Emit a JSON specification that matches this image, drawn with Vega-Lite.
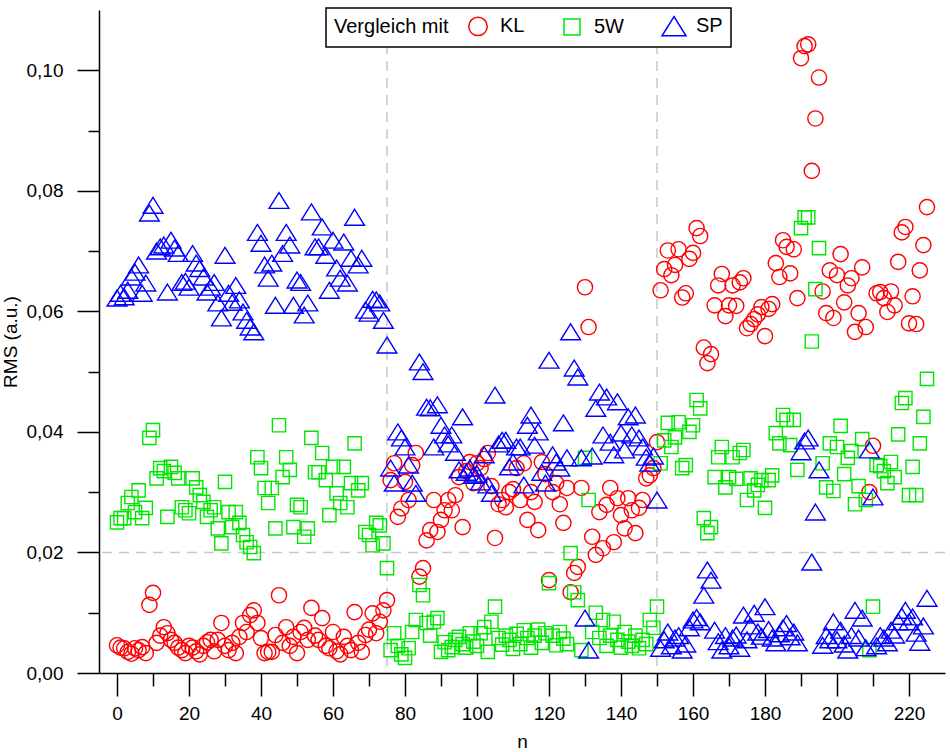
{
"$schema": "https://vega.github.io/schema/vega-lite/v6.json",
"width": 846, "height": 663,
"autosize": {"type": "none"},
"padding": {"left": 99, "top": 10, "right": 5, "bottom": 79},
"background": "white",
"datasets": {
"pts": [
{"n":0,"s":"KL","v":0.0046},{"n":1,"s":"KL","v":0.0042},{"n":2,"s":"KL","v":0.0041},{"n":3,"s":"KL","v":0.0035},{"n":4,"s":"KL","v":0.0032},{"n":5,"s":"KL","v":0.0041},{"n":6,"s":"KL","v":0.0038},{"n":7,"s":"KL","v":0.0043},{"n":8,"s":"KL","v":0.0033},{"n":9,"s":"KL","v":0.0113},
{"n":10,"s":"KL","v":0.0133},{"n":11,"s":"KL","v":0.005},{"n":12,"s":"KL","v":0.0062},{"n":13,"s":"KL","v":0.0076},{"n":14,"s":"KL","v":0.0066},{"n":15,"s":"KL","v":0.0055},{"n":16,"s":"KL","v":0.005},{"n":17,"s":"KL","v":0.0042},{"n":18,"s":"KL","v":0.0038},{"n":19,"s":"KL","v":0.0033},
{"n":20,"s":"KL","v":0.0045},{"n":21,"s":"KL","v":0.0042},{"n":22,"s":"KL","v":0.0036},{"n":23,"s":"KL","v":0.0031},{"n":24,"s":"KL","v":0.0045},{"n":25,"s":"KL","v":0.0051},{"n":26,"s":"KL","v":0.0055},{"n":27,"s":"KL","v":0.0036},{"n":28,"s":"KL","v":0.0055},{"n":29,"s":"KL","v":0.0083},
{"n":30,"s":"KL","v":0.0045},{"n":31,"s":"KL","v":0.0038},{"n":32,"s":"KL","v":0.005},{"n":33,"s":"KL","v":0.0033},{"n":34,"s":"KL","v":0.006},{"n":35,"s":"KL","v":0.0083},{"n":36,"s":"KL","v":0.0068},{"n":37,"s":"KL","v":0.0096},{"n":38,"s":"KL","v":0.0104},{"n":39,"s":"KL","v":0.0083},
{"n":40,"s":"KL","v":0.0058},{"n":41,"s":"KL","v":0.0033},{"n":42,"s":"KL","v":0.0035},{"n":43,"s":"KL","v":0.0035},{"n":44,"s":"KL","v":0.0063},{"n":45,"s":"KL","v":0.0129},{"n":46,"s":"KL","v":0.005},{"n":47,"s":"KL","v":0.0076},{"n":48,"s":"KL","v":0.0045},{"n":49,"s":"KL","v":0.006},
{"n":50,"s":"KL","v":0.0033},{"n":51,"s":"KL","v":0.0068},{"n":52,"s":"KL","v":0.0075},{"n":53,"s":"KL","v":0.0055},{"n":54,"s":"KL","v":0.0108},{"n":55,"s":"KL","v":0.0062},{"n":56,"s":"KL","v":0.0055},{"n":57,"s":"KL","v":0.0091},{"n":58,"s":"KL","v":0.0045},{"n":59,"s":"KL","v":0.0041},
{"n":60,"s":"KL","v":0.0068},{"n":61,"s":"KL","v":0.0036},{"n":62,"s":"KL","v":0.0031},{"n":63,"s":"KL","v":0.006},{"n":64,"s":"KL","v":0.0045},{"n":65,"s":"KL","v":0.0038},{"n":66,"s":"KL","v":0.0101},{"n":67,"s":"KL","v":0.005},{"n":68,"s":"KL","v":0.0035},{"n":69,"s":"KL","v":0.0063},
{"n":70,"s":"KL","v":0.0072},{"n":71,"s":"KL","v":0.0099},{"n":72,"s":"KL","v":0.0066},{"n":73,"s":"KL","v":0.0085},{"n":74,"s":"KL","v":0.0104},{"n":75,"s":"KL","v":0.0121},
{"n":76,"s":"KL","v":0.032},{"n":77,"s":"KL","v":0.0348},{"n":78,"s":"KL","v":0.0259},{"n":79,"s":"KL","v":0.0273},{"n":80,"s":"KL","v":0.0317},{"n":81,"s":"KL","v":0.0287},{"n":82,"s":"KL","v":0.0345},{"n":83,"s":"KL","v":0.0365},{"n":84,"s":"KL","v":0.016},{"n":85,"s":"KL","v":0.0174},
{"n":86,"s":"KL","v":0.022},{"n":87,"s":"KL","v":0.0237},{"n":88,"s":"KL","v":0.0287},{"n":89,"s":"KL","v":0.0234},{"n":90,"s":"KL","v":0.0254},{"n":91,"s":"KL","v":0.027},{"n":92,"s":"KL","v":0.0287},{"n":93,"s":"KL","v":0.027},{"n":94,"s":"KL","v":0.0295},{"n":95,"s":"KL","v":0.0325},
{"n":96,"s":"KL","v":0.0242},{"n":97,"s":"KL","v":0.0335},{"n":98,"s":"KL","v":0.035},{"n":99,"s":"KL","v":0.0315},{"n":100,"s":"KL","v":0.0348},{"n":101,"s":"KL","v":0.034},{"n":102,"s":"KL","v":0.0355},{"n":103,"s":"KL","v":0.0365},{"n":104,"s":"KL","v":0.031},{"n":105,"s":"KL","v":0.0224},
{"n":106,"s":"KL","v":0.028},{"n":107,"s":"KL","v":0.0287},{"n":108,"s":"KL","v":0.0275},{"n":109,"s":"KL","v":0.03},{"n":110,"s":"KL","v":0.0305},{"n":111,"s":"KL","v":0.034},{"n":112,"s":"KL","v":0.0287},{"n":113,"s":"KL","v":0.0348},{"n":114,"s":"KL","v":0.0254},{"n":115,"s":"KL","v":0.03},
{"n":116,"s":"KL","v":0.0284},{"n":117,"s":"KL","v":0.0237},{"n":118,"s":"KL","v":0.035},{"n":119,"s":"KL","v":0.033},{"n":120,"s":"KL","v":0.0154},{"n":121,"s":"KL","v":0.03},{"n":122,"s":"KL","v":0.0315},{"n":123,"s":"KL","v":0.028},{"n":124,"s":"KL","v":0.0249},{"n":125,"s":"KL","v":0.0307},
{"n":126,"s":"KL","v":0.0134},{"n":127,"s":"KL","v":0.0166},{"n":128,"s":"KL","v":0.0176},{"n":129,"s":"KL","v":0.0307},{"n":130,"s":"KL","v":0.064},{"n":131,"s":"KL","v":0.0574},{"n":132,"s":"KL","v":0.0226},{"n":133,"s":"KL","v":0.0196},{"n":134,"s":"KL","v":0.0267},{"n":135,"s":"KL","v":0.0207},
{"n":136,"s":"KL","v":0.0279},{"n":137,"s":"KL","v":0.0307},{"n":138,"s":"KL","v":0.0217},{"n":139,"s":"KL","v":0.029},{"n":140,"s":"KL","v":0.0262},{"n":141,"s":"KL","v":0.024},{"n":142,"s":"KL","v":0.029},{"n":143,"s":"KL","v":0.027},{"n":144,"s":"KL","v":0.0232},{"n":145,"s":"KL","v":0.0274},
{"n":146,"s":"KL","v":0.0287},{"n":147,"s":"KL","v":0.0323},{"n":148,"s":"KL","v":0.0328},{"n":149,"s":"KL","v":0.034},{"n":150,"s":"KL","v":0.0383},
{"n":151,"s":"KL","v":0.0635},{"n":152,"s":"KL","v":0.067},{"n":153,"s":"KL","v":0.0701},{"n":154,"s":"KL","v":0.066},{"n":155,"s":"KL","v":0.0677},{"n":156,"s":"KL","v":0.0703},{"n":157,"s":"KL","v":0.0623},{"n":158,"s":"KL","v":0.063},{"n":159,"s":"KL","v":0.0687},{"n":160,"s":"KL","v":0.0697},
{"n":161,"s":"KL","v":0.0738},{"n":162,"s":"KL","v":0.0725},{"n":163,"s":"KL","v":0.054},{"n":164,"s":"KL","v":0.0514},{"n":165,"s":"KL","v":0.0529},{"n":166,"s":"KL","v":0.061},{"n":167,"s":"KL","v":0.0643},{"n":168,"s":"KL","v":0.0662},{"n":169,"s":"KL","v":0.0592},{"n":170,"s":"KL","v":0.061},
{"n":171,"s":"KL","v":0.0643},{"n":172,"s":"KL","v":0.0609},{"n":173,"s":"KL","v":0.0648},{"n":174,"s":"KL","v":0.0655},{"n":175,"s":"KL","v":0.0572},{"n":176,"s":"KL","v":0.0579},{"n":177,"s":"KL","v":0.0587},{"n":178,"s":"KL","v":0.0595},{"n":179,"s":"KL","v":0.0607},{"n":180,"s":"KL","v":0.0559},
{"n":181,"s":"KL","v":0.0604},{"n":182,"s":"KL","v":0.0612},{"n":183,"s":"KL","v":0.068},{"n":184,"s":"KL","v":0.0657},{"n":185,"s":"KL","v":0.0718},{"n":186,"s":"KL","v":0.0707},{"n":187,"s":"KL","v":0.0663},{"n":188,"s":"KL","v":0.0703},{"n":189,"s":"KL","v":0.0622},{"n":190,"s":"KL","v":0.102},
{"n":191,"s":"KL","v":0.104},{"n":192,"s":"KL","v":0.1043},{"n":193,"s":"KL","v":0.0833},{"n":194,"s":"KL","v":0.092},{"n":195,"s":"KL","v":0.0988},{"n":196,"s":"KL","v":0.0633},{"n":197,"s":"KL","v":0.0597},{"n":198,"s":"KL","v":0.0668},{"n":199,"s":"KL","v":0.0589},{"n":200,"s":"KL","v":0.066},
{"n":201,"s":"KL","v":0.0695},{"n":202,"s":"KL","v":0.0615},{"n":203,"s":"KL","v":0.0643},{"n":204,"s":"KL","v":0.0655},{"n":205,"s":"KL","v":0.0566},{"n":206,"s":"KL","v":0.0597},{"n":207,"s":"KL","v":0.0673},{"n":208,"s":"KL","v":0.0574},{"n":209,"s":"KL","v":0.03},{"n":210,"s":"KL","v":0.0377},
{"n":211,"s":"KL","v":0.063},{"n":212,"s":"KL","v":0.0632},{"n":213,"s":"KL","v":0.0622},{"n":214,"s":"KL","v":0.0599},{"n":215,"s":"KL","v":0.0633},{"n":216,"s":"KL","v":0.061},{"n":217,"s":"KL","v":0.0682},{"n":218,"s":"KL","v":0.0731},{"n":219,"s":"KL","v":0.074},{"n":220,"s":"KL","v":0.058},
{"n":221,"s":"KL","v":0.0625},{"n":222,"s":"KL","v":0.0579},{"n":223,"s":"KL","v":0.0668},{"n":224,"s":"KL","v":0.071},{"n":225,"s":"KL","v":0.0773},
{"n":0,"s":"5W","v":0.025},{"n":1,"s":"5W","v":0.0257},{"n":2,"s":"5W","v":0.0257},{"n":3,"s":"5W","v":0.0282},{"n":4,"s":"5W","v":0.0292},{"n":5,"s":"5W","v":0.0267},{"n":6,"s":"5W","v":0.0303},{"n":7,"s":"5W","v":0.0257},{"n":8,"s":"5W","v":0.0274},{"n":9,"s":"5W","v":0.039},
{"n":10,"s":"5W","v":0.0403},{"n":11,"s":"5W","v":0.0323},{"n":12,"s":"5W","v":0.034},{"n":13,"s":"5W","v":0.0335},{"n":14,"s":"5W","v":0.0259},{"n":15,"s":"5W","v":0.0342},{"n":16,"s":"5W","v":0.0332},{"n":17,"s":"5W","v":0.0323},{"n":18,"s":"5W","v":0.0275},{"n":19,"s":"5W","v":0.027},
{"n":20,"s":"5W","v":0.0265},{"n":21,"s":"5W","v":0.0323},{"n":22,"s":"5W","v":0.0308},{"n":23,"s":"5W","v":0.0295},{"n":24,"s":"5W","v":0.0284},{"n":25,"s":"5W","v":0.0259},{"n":26,"s":"5W","v":0.027},{"n":27,"s":"5W","v":0.0275},{"n":28,"s":"5W","v":0.024},{"n":29,"s":"5W","v":0.0215},
{"n":30,"s":"5W","v":0.0317},{"n":31,"s":"5W","v":0.0267},{"n":32,"s":"5W","v":0.0242},{"n":33,"s":"5W","v":0.0267},{"n":34,"s":"5W","v":0.0249},{"n":35,"s":"5W","v":0.0229},{"n":36,"s":"5W","v":0.0217},{"n":37,"s":"5W","v":0.0209},{"n":38,"s":"5W","v":0.0199},{"n":39,"s":"5W","v":0.0358},
{"n":40,"s":"5W","v":0.034},{"n":41,"s":"5W","v":0.0307},{"n":42,"s":"5W","v":0.0282},{"n":43,"s":"5W","v":0.0307},{"n":44,"s":"5W","v":0.024},{"n":45,"s":"5W","v":0.0411},{"n":46,"s":"5W","v":0.0325},{"n":47,"s":"5W","v":0.0358},{"n":48,"s":"5W","v":0.0337},{"n":49,"s":"5W","v":0.0242},
{"n":50,"s":"5W","v":0.0279},{"n":51,"s":"5W","v":0.0275},{"n":52,"s":"5W","v":0.0226},{"n":53,"s":"5W","v":0.024},{"n":54,"s":"5W","v":0.039},{"n":55,"s":"5W","v":0.0333},{"n":56,"s":"5W","v":0.0333},{"n":57,"s":"5W","v":0.0365},{"n":58,"s":"5W","v":0.032},{"n":59,"s":"5W","v":0.0262},
{"n":60,"s":"5W","v":0.0342},{"n":61,"s":"5W","v":0.0298},{"n":62,"s":"5W","v":0.0282},{"n":63,"s":"5W","v":0.0342},{"n":64,"s":"5W","v":0.0275},{"n":65,"s":"5W","v":0.0315},{"n":66,"s":"5W","v":0.0381},{"n":67,"s":"5W","v":0.0303},{"n":68,"s":"5W","v":0.0315},{"n":69,"s":"5W","v":0.0234},
{"n":70,"s":"5W","v":0.0229},{"n":71,"s":"5W","v":0.0212},{"n":72,"s":"5W","v":0.0249},{"n":73,"s":"5W","v":0.0245},{"n":74,"s":"5W","v":0.0215},{"n":75,"s":"5W","v":0.0174},
{"n":76,"s":"5W","v":0.0038},{"n":77,"s":"5W","v":0.0066},{"n":78,"s":"5W","v":0.0045},{"n":79,"s":"5W","v":0.0031},{"n":80,"s":"5W","v":0.0025},{"n":81,"s":"5W","v":0.0041},{"n":82,"s":"5W","v":0.0068},{"n":83,"s":"5W","v":0.0088},{"n":84,"s":"5W","v":0.0146},{"n":85,"s":"5W","v":0.0129},
{"n":86,"s":"5W","v":0.0083},{"n":87,"s":"5W","v":0.0062},{"n":88,"s":"5W","v":0.0085},{"n":89,"s":"5W","v":0.0091},{"n":90,"s":"5W","v":0.0035},{"n":91,"s":"5W","v":0.0051},{"n":92,"s":"5W","v":0.0038},{"n":93,"s":"5W","v":0.0043},{"n":94,"s":"5W","v":0.0055},{"n":95,"s":"5W","v":0.006},
{"n":96,"s":"5W","v":0.0048},{"n":97,"s":"5W","v":0.0042},{"n":98,"s":"5W","v":0.0066},{"n":99,"s":"5W","v":0.0052},{"n":100,"s":"5W","v":0.0045},{"n":101,"s":"5W","v":0.0066},{"n":102,"s":"5W","v":0.0076},{"n":103,"s":"5W","v":0.0035},{"n":104,"s":"5W","v":0.0085},{"n":105,"s":"5W","v":0.011},
{"n":106,"s":"5W","v":0.0058},{"n":107,"s":"5W","v":0.0047},{"n":108,"s":"5W","v":0.0062},{"n":109,"s":"5W","v":0.0055},{"n":110,"s":"5W","v":0.004},{"n":111,"s":"5W","v":0.0065},{"n":112,"s":"5W","v":0.0048},{"n":113,"s":"5W","v":0.0071},{"n":114,"s":"5W","v":0.0058},{"n":115,"s":"5W","v":0.0042},
{"n":116,"s":"5W","v":0.0062},{"n":117,"s":"5W","v":0.0072},{"n":118,"s":"5W","v":0.005},{"n":119,"s":"5W","v":0.0066},{"n":120,"s":"5W","v":0.0149},{"n":121,"s":"5W","v":0.0062},{"n":122,"s":"5W","v":0.0046},{"n":123,"s":"5W","v":0.0068},{"n":124,"s":"5W","v":0.0057},{"n":125,"s":"5W","v":0.0048},
{"n":126,"s":"5W","v":0.0199},{"n":127,"s":"5W","v":0.0134},{"n":128,"s":"5W","v":0.0121},{"n":129,"s":"5W","v":0.0038},{"n":130,"s":"5W","v":0.0357},{"n":131,"s":"5W","v":0.0287},{"n":132,"s":"5W","v":0.0068},{"n":133,"s":"5W","v":0.01},{"n":134,"s":"5W","v":0.0058},{"n":135,"s":"5W","v":0.0088},
{"n":136,"s":"5W","v":0.0045},{"n":137,"s":"5W","v":0.0062},{"n":138,"s":"5W","v":0.0085},{"n":139,"s":"5W","v":0.0055},{"n":140,"s":"5W","v":0.0042},{"n":141,"s":"5W","v":0.0068},{"n":142,"s":"5W","v":0.0052},{"n":143,"s":"5W","v":0.0045},{"n":144,"s":"5W","v":0.0062},{"n":145,"s":"5W","v":0.0041},
{"n":146,"s":"5W","v":0.0055},{"n":147,"s":"5W","v":0.0048},{"n":148,"s":"5W","v":0.0088},{"n":149,"s":"5W","v":0.0075},{"n":150,"s":"5W","v":0.011},
{"n":151,"s":"5W","v":0.0348},{"n":152,"s":"5W","v":0.0386},{"n":153,"s":"5W","v":0.0415},{"n":154,"s":"5W","v":0.0375},{"n":155,"s":"5W","v":0.0391},{"n":156,"s":"5W","v":0.0416},{"n":157,"s":"5W","v":0.034},{"n":158,"s":"5W","v":0.0345},{"n":159,"s":"5W","v":0.04},{"n":160,"s":"5W","v":0.0411},
{"n":161,"s":"5W","v":0.0453},{"n":162,"s":"5W","v":0.0439},{"n":163,"s":"5W","v":0.0257},{"n":164,"s":"5W","v":0.0232},{"n":165,"s":"5W","v":0.0242},{"n":166,"s":"5W","v":0.0325},{"n":167,"s":"5W","v":0.0358},{"n":168,"s":"5W","v":0.0375},{"n":169,"s":"5W","v":0.0308},{"n":170,"s":"5W","v":0.0325},
{"n":171,"s":"5W","v":0.0358},{"n":172,"s":"5W","v":0.0322},{"n":173,"s":"5W","v":0.0365},{"n":174,"s":"5W","v":0.037},{"n":175,"s":"5W","v":0.0287},{"n":176,"s":"5W","v":0.0323},{"n":177,"s":"5W","v":0.0303},{"n":178,"s":"5W","v":0.0312},{"n":179,"s":"5W","v":0.032},{"n":180,"s":"5W","v":0.0274},
{"n":181,"s":"5W","v":0.032},{"n":182,"s":"5W","v":0.0328},{"n":183,"s":"5W","v":0.0398},{"n":184,"s":"5W","v":0.0381},{"n":185,"s":"5W","v":0.0428},{"n":186,"s":"5W","v":0.042},{"n":187,"s":"5W","v":0.0378},{"n":188,"s":"5W","v":0.042},{"n":189,"s":"5W","v":0.0337},{"n":190,"s":"5W","v":0.0738},
{"n":191,"s":"5W","v":0.0756},{"n":192,"s":"5W","v":0.0756},{"n":193,"s":"5W","v":0.055},{"n":194,"s":"5W","v":0.0637},{"n":195,"s":"5W","v":0.0705},{"n":196,"s":"5W","v":0.0348},{"n":197,"s":"5W","v":0.0308},{"n":198,"s":"5W","v":0.0381},{"n":199,"s":"5W","v":0.0302},{"n":200,"s":"5W","v":0.0375},
{"n":201,"s":"5W","v":0.041},{"n":202,"s":"5W","v":0.033},{"n":203,"s":"5W","v":0.0357},{"n":204,"s":"5W","v":0.0368},{"n":205,"s":"5W","v":0.028},{"n":206,"s":"5W","v":0.031},{"n":207,"s":"5W","v":0.0388},{"n":208,"s":"5W","v":0.0287},{"n":209,"s":"5W","v":0.0038},{"n":210,"s":"5W","v":0.011},
{"n":211,"s":"5W","v":0.0345},{"n":212,"s":"5W","v":0.0343},{"n":213,"s":"5W","v":0.0335},{"n":214,"s":"5W","v":0.0315},{"n":215,"s":"5W","v":0.035},{"n":216,"s":"5W","v":0.0325},{"n":217,"s":"5W","v":0.0396},{"n":218,"s":"5W","v":0.0448},{"n":219,"s":"5W","v":0.0456},{"n":220,"s":"5W","v":0.0295},
{"n":221,"s":"5W","v":0.0342},{"n":222,"s":"5W","v":0.0295},{"n":223,"s":"5W","v":0.0381},{"n":224,"s":"5W","v":0.0425},{"n":225,"s":"5W","v":0.0488},
{"n":0,"s":"SP","v":0.0622},{"n":1,"s":"SP","v":0.063},{"n":2,"s":"SP","v":0.0624},{"n":3,"s":"SP","v":0.0635},{"n":4,"s":"SP","v":0.0657},{"n":5,"s":"SP","v":0.0665},{"n":6,"s":"SP","v":0.0677},{"n":7,"s":"SP","v":0.063},{"n":8,"s":"SP","v":0.0647},{"n":9,"s":"SP","v":0.0763},
{"n":10,"s":"SP","v":0.0776},{"n":11,"s":"SP","v":0.07},{"n":12,"s":"SP","v":0.0707},{"n":13,"s":"SP","v":0.071},{"n":14,"s":"SP","v":0.0632},{"n":15,"s":"SP","v":0.0718},{"n":16,"s":"SP","v":0.0705},{"n":17,"s":"SP","v":0.0696},{"n":18,"s":"SP","v":0.0648},{"n":19,"s":"SP","v":0.065},
{"n":20,"s":"SP","v":0.064},{"n":21,"s":"SP","v":0.0696},{"n":22,"s":"SP","v":0.068},{"n":23,"s":"SP","v":0.0671},{"n":24,"s":"SP","v":0.0657},{"n":25,"s":"SP","v":0.0632},{"n":26,"s":"SP","v":0.064},{"n":27,"s":"SP","v":0.0648},{"n":28,"s":"SP","v":0.0614},{"n":29,"s":"SP","v":0.0589},
{"n":30,"s":"SP","v":0.0693},{"n":31,"s":"SP","v":0.063},{"n":32,"s":"SP","v":0.0615},{"n":33,"s":"SP","v":0.0643},{"n":34,"s":"SP","v":0.0619},{"n":35,"s":"SP","v":0.0599},{"n":36,"s":"SP","v":0.0585},{"n":37,"s":"SP","v":0.0574},{"n":38,"s":"SP","v":0.0566},{"n":39,"s":"SP","v":0.0731},
{"n":40,"s":"SP","v":0.0713},{"n":41,"s":"SP","v":0.0677},{"n":42,"s":"SP","v":0.0655},{"n":43,"s":"SP","v":0.068},{"n":44,"s":"SP","v":0.061},{"n":45,"s":"SP","v":0.0784},{"n":46,"s":"SP","v":0.0696},{"n":47,"s":"SP","v":0.0731},{"n":48,"s":"SP","v":0.071},{"n":49,"s":"SP","v":0.061},
{"n":50,"s":"SP","v":0.0652},{"n":51,"s":"SP","v":0.0648},{"n":52,"s":"SP","v":0.0594},{"n":53,"s":"SP","v":0.0614},{"n":54,"s":"SP","v":0.0765},{"n":55,"s":"SP","v":0.0707},{"n":56,"s":"SP","v":0.0707},{"n":57,"s":"SP","v":0.074},{"n":58,"s":"SP","v":0.0693},{"n":59,"s":"SP","v":0.0635},
{"n":60,"s":"SP","v":0.0718},{"n":61,"s":"SP","v":0.0672},{"n":62,"s":"SP","v":0.0655},{"n":63,"s":"SP","v":0.0715},{"n":64,"s":"SP","v":0.0647},{"n":65,"s":"SP","v":0.0688},{"n":66,"s":"SP","v":0.0756},{"n":67,"s":"SP","v":0.0677},{"n":68,"s":"SP","v":0.0688},{"n":69,"s":"SP","v":0.0602},
{"n":70,"s":"SP","v":0.0597},{"n":71,"s":"SP","v":0.062},{"n":72,"s":"SP","v":0.0619},{"n":73,"s":"SP","v":0.0614},{"n":74,"s":"SP","v":0.0585},{"n":75,"s":"SP","v":0.0544},
{"n":76,"s":"SP","v":0.034},{"n":77,"s":"SP","v":0.0315},{"n":78,"s":"SP","v":0.04},{"n":79,"s":"SP","v":0.039},{"n":80,"s":"SP","v":0.0375},{"n":81,"s":"SP","v":0.0345},{"n":82,"s":"SP","v":0.0315},{"n":83,"s":"SP","v":0.0298},{"n":84,"s":"SP","v":0.0516},{"n":85,"s":"SP","v":0.05},
{"n":86,"s":"SP","v":0.0441},{"n":87,"s":"SP","v":0.044},{"n":88,"s":"SP","v":0.0375},{"n":89,"s":"SP","v":0.0445},{"n":90,"s":"SP","v":0.0411},{"n":91,"s":"SP","v":0.0395},{"n":92,"s":"SP","v":0.038},{"n":93,"s":"SP","v":0.0395},{"n":94,"s":"SP","v":0.0366},{"n":95,"s":"SP","v":0.0337},
{"n":96,"s":"SP","v":0.0425},{"n":97,"s":"SP","v":0.0333},{"n":98,"s":"SP","v":0.034},{"n":99,"s":"SP","v":0.0328},{"n":100,"s":"SP","v":0.033},{"n":101,"s":"SP","v":0.0317},{"n":102,"s":"SP","v":0.0362},{"n":103,"s":"SP","v":0.0312},{"n":104,"s":"SP","v":0.0298},{"n":105,"s":"SP","v":0.0461},
{"n":106,"s":"SP","v":0.038},{"n":107,"s":"SP","v":0.0386},{"n":108,"s":"SP","v":0.0386},{"n":109,"s":"SP","v":0.0342},{"n":110,"s":"SP","v":0.035},{"n":111,"s":"SP","v":0.0375},{"n":112,"s":"SP","v":0.0375},{"n":113,"s":"SP","v":0.0312},{"n":114,"s":"SP","v":0.0411},{"n":115,"s":"SP","v":0.0428},
{"n":116,"s":"SP","v":0.0378},{"n":117,"s":"SP","v":0.04},{"n":118,"s":"SP","v":0.0333},{"n":119,"s":"SP","v":0.0315},{"n":120,"s":"SP","v":0.0519},{"n":121,"s":"SP","v":0.0362},{"n":122,"s":"SP","v":0.035},{"n":123,"s":"SP","v":0.034},{"n":124,"s":"SP","v":0.0415},{"n":125,"s":"SP","v":0.0357},
{"n":126,"s":"SP","v":0.0566},{"n":127,"s":"SP","v":0.0506},{"n":128,"s":"SP","v":0.0491},{"n":129,"s":"SP","v":0.0357},{"n":130,"s":"SP","v":0.0091},{"n":131,"s":"SP","v":0.0038},{"n":132,"s":"SP","v":0.036},{"n":133,"s":"SP","v":0.0439},{"n":134,"s":"SP","v":0.0466},{"n":135,"s":"SP","v":0.0395},
{"n":136,"s":"SP","v":0.0458},{"n":137,"s":"SP","v":0.0383},{"n":138,"s":"SP","v":0.0362},{"n":139,"s":"SP","v":0.045},{"n":140,"s":"SP","v":0.0398},{"n":141,"s":"SP","v":0.037},{"n":142,"s":"SP","v":0.0425},{"n":143,"s":"SP","v":0.0395},{"n":144,"s":"SP","v":0.0428},{"n":145,"s":"SP","v":0.039},
{"n":146,"s":"SP","v":0.0375},{"n":147,"s":"SP","v":0.0358},{"n":148,"s":"SP","v":0.0348},{"n":149,"s":"SP","v":0.036},{"n":150,"s":"SP","v":0.0287},
{"n":151,"s":"SP","v":0.0041},{"n":152,"s":"SP","v":0.0055},{"n":153,"s":"SP","v":0.0068},{"n":154,"s":"SP","v":0.0045},{"n":155,"s":"SP","v":0.0058},{"n":156,"s":"SP","v":0.0062},{"n":157,"s":"SP","v":0.0038},{"n":158,"s":"SP","v":0.0048},{"n":159,"s":"SP","v":0.0075},{"n":160,"s":"SP","v":0.0088},
{"n":161,"s":"SP","v":0.0092},{"n":162,"s":"SP","v":0.0085},{"n":163,"s":"SP","v":0.0129},{"n":164,"s":"SP","v":0.0171},{"n":165,"s":"SP","v":0.0154},{"n":166,"s":"SP","v":0.0071},{"n":167,"s":"SP","v":0.0052},{"n":168,"s":"SP","v":0.0038},{"n":169,"s":"SP","v":0.0062},{"n":170,"s":"SP","v":0.0045},
{"n":171,"s":"SP","v":0.0058},{"n":172,"s":"SP","v":0.0063},{"n":173,"s":"SP","v":0.0041},{"n":174,"s":"SP","v":0.0096},{"n":175,"s":"SP","v":0.0055},{"n":176,"s":"SP","v":0.0078},{"n":177,"s":"SP","v":0.0099},{"n":178,"s":"SP","v":0.0068},{"n":179,"s":"SP","v":0.0061},{"n":180,"s":"SP","v":0.011},
{"n":181,"s":"SP","v":0.0072},{"n":182,"s":"SP","v":0.0058},{"n":183,"s":"SP","v":0.005},{"n":184,"s":"SP","v":0.0065},{"n":185,"s":"SP","v":0.0075},{"n":186,"s":"SP","v":0.0082},{"n":187,"s":"SP","v":0.006},{"n":188,"s":"SP","v":0.0068},{"n":189,"s":"SP","v":0.005},{"n":190,"s":"SP","v":0.0367},
{"n":191,"s":"SP","v":0.0385},{"n":192,"s":"SP","v":0.039},{"n":193,"s":"SP","v":0.0184},{"n":194,"s":"SP","v":0.0267},{"n":195,"s":"SP","v":0.0337},{"n":196,"s":"SP","v":0.0046},{"n":197,"s":"SP","v":0.0062},{"n":198,"s":"SP","v":0.0055},{"n":199,"s":"SP","v":0.0085},{"n":200,"s":"SP","v":0.0055},
{"n":201,"s":"SP","v":0.0071},{"n":202,"s":"SP","v":0.0048},{"n":203,"s":"SP","v":0.0038},{"n":204,"s":"SP","v":0.0062},{"n":205,"s":"SP","v":0.0104},{"n":206,"s":"SP","v":0.0058},{"n":207,"s":"SP","v":0.0091},{"n":208,"s":"SP","v":0.0042},{"n":209,"s":"SP","v":0.037},{"n":210,"s":"SP","v":0.0292},
{"n":211,"s":"SP","v":0.0045},{"n":212,"s":"SP","v":0.0062},{"n":213,"s":"SP","v":0.0058},{"n":214,"s":"SP","v":0.005},{"n":215,"s":"SP","v":0.0071},{"n":216,"s":"SP","v":0.0063},{"n":217,"s":"SP","v":0.0085},{"n":218,"s":"SP","v":0.0094},{"n":219,"s":"SP","v":0.0104},{"n":220,"s":"SP","v":0.0085},
{"n":221,"s":"SP","v":0.0093},{"n":222,"s":"SP","v":0.0066},{"n":223,"s":"SP","v":0.0051},{"n":224,"s":"SP","v":0.0078},{"n":225,"s":"SP","v":0.0124}
]
},
"config": {
  "view": {"stroke": null},
  "font": "Liberation Sans",
  "axis": {"domainColor": "black", "domainWidth": 1.5, "tickColor": "black", "tickWidth": 1.5, "labelColor": "black", "titleColor": "black", "labelFontSize": 19, "titleFontSize": 19, "titleFontWeight": "normal", "grid": false, "labelFont": "Liberation Sans", "titleFont": "Liberation Sans"},
  "legend": {"strokeColor": "black", "strokeWidth": 1.5, "fillColor": "white", "padding": 8, "cornerRadius": 0}
},
"resolve": {"axis": {"x": "independent", "y": "independent"}},
"layer": [
  {
    "data": {"values": [{"n": 75}, {"n": 150}]},
    "mark": {"type": "rule", "color": "#c8c8c8", "strokeDash": [10, 7], "strokeWidth": 1.5},
    "encoding": {
      "x": {"field": "n", "type": "quantitative", "scale": {"domain": [-5, 230], "nice": false, "zero": false},
            "axis": {"orient": "bottom", "values": [10, 30, 50, 70, 90, 110, 130, 150, 170, 190, 210], "tickSize": 13, "labels": false, "domain": false, "title": null}}
    }
  },
  {
    "data": {"values": [{"v": 0.02}]},
    "mark": {"type": "rule", "color": "#c8c8c8", "strokeDash": [10, 7], "strokeWidth": 1.5},
    "encoding": {
      "y": {"field": "v", "type": "quantitative", "scale": {"domain": [0, 0.11], "nice": false, "zero": false},
            "axis": {"orient": "left", "values": [0.01, 0.03, 0.05, 0.07, 0.09], "tickSize": 11, "labels": false, "domain": false, "title": null}}
    }
  },
  {
    "data": {"name": "pts"},
    "mark": {"type": "point", "filled": false, "strokeWidth": 1.4, "opacity": 1, "size": 232},
    "encoding": {
      "x": {"field": "n", "type": "quantitative", "scale": {"domain": [-5, 230], "nice": false, "zero": false},
            "axis": {"orient": "bottom", "values": [0, 20, 40, 60, 80, 100, 120, 140, 160, 180, 200, 220], "tickSize": 23, "labelPadding": 8, "title": "n", "titlePadding": 9}},
      "y": {"field": "v", "type": "quantitative", "scale": {"domain": [0, 0.11], "nice": false, "zero": false},
            "axis": {"orient": "left", "values": [0, 0.02, 0.04, 0.06, 0.08, 0.1], "tickSize": 22, "labelPadding": 14, "labelExpr": "replace(format(datum.value, '.2f'), '.', ',')", "title": "RMS (a.u.)", "titlePadding": 6}},
      "color": {"field": "s", "type": "nominal", "scale": {"domain": ["KL", "5W", "SP"], "range": ["#ff0000", "#00e600", "#0000ff"]},
                "legend": {"title": "Vergleich mit", "orient": "none", "legendX": 227, "legendY": -2, "direction": "horizontal", "titleOrient": "left", "titleFontSize": 20, "titleFontWeight": "normal", "titleColor": "black", "titlePadding": 19, "titleBaseline": "middle", "titleAnchor": "middle", "labelFontSize": 20, "labelColor": "black", "symbolSize": 340, "symbolStrokeWidth": 1.5, "columnPadding": 35, "labelOffset": 12, "labelExpr": "datum.label == 'SP' ? 'SP\u00a0\u00a0\u00a0' : datum.label"}},
      "shape": {"field": "s", "type": "nominal", "scale": {"domain": ["KL", "5W", "SP"], "range": ["circle", "M-0.87,-0.87H0.87V0.87H-0.87Z", "M0,-1.04L1.3,1.04L-1.3,1.04Z"]},
                "legend": {"title": "Vergleich mit", "orient": "none", "legendX": 227, "legendY": -2, "direction": "horizontal", "titleOrient": "left", "titleFontSize": 20, "titleFontWeight": "normal", "titleColor": "black", "titlePadding": 19, "titleBaseline": "middle", "titleAnchor": "middle", "labelFontSize": 20, "labelColor": "black", "symbolSize": 340, "symbolStrokeWidth": 1.5, "columnPadding": 35, "labelOffset": 12, "labelExpr": "datum.label == 'SP' ? 'SP\u00a0\u00a0\u00a0' : datum.label"}}
    }
  }
]
}
